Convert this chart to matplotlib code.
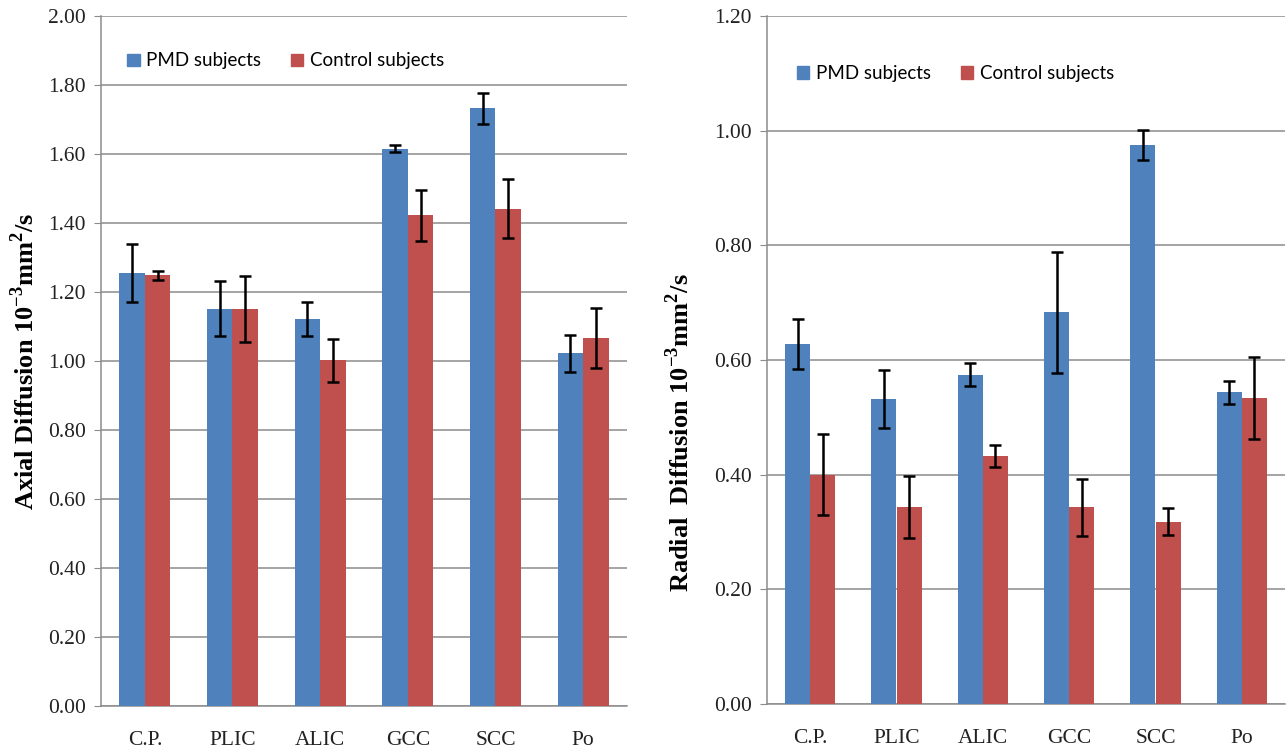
import numpy as np
import matplotlib.pyplot as plt
from matplotlib.patches import Patch

plt.rcParams['font.family'] = ['Liberation Serif', 'DejaVu Serif']
plt.rcParams['mathtext.fontset'] = 'custom'
plt.rcParams['mathtext.rm'] = 'Liberation Serif:bold'
plt.rcParams['mathtext.bf'] = 'Liberation Serif:bold'

regions = ["C.P.", "PLIC", "ALIC", "GCC", "SCC", "Po"]

# axial diffusion (10^-3 mm^2/s)
axial_pmd = [1.255, 1.152, 1.122, 1.615, 1.732, 1.022]
axial_pmd_err = [0.085, 0.080, 0.050, 0.010, 0.045, 0.053]
axial_ctrl = [1.248, 1.150, 1.002, 1.423, 1.442, 1.066]
axial_ctrl_err = [0.014, 0.095, 0.062, 0.074, 0.085, 0.087]

# radial diffusion (10^-3 mm^2/s)
radial_pmd = [0.628, 0.532, 0.574, 0.683, 0.975, 0.544]
radial_pmd_err = [0.044, 0.050, 0.020, 0.105, 0.026, 0.020]
radial_ctrl = [0.400, 0.343, 0.432, 0.343, 0.318, 0.534]
radial_ctrl_err = [0.071, 0.054, 0.019, 0.050, 0.024, 0.071]

blue = "#4F81BD"
red = "#C0504D"
grid_c = "#8c8c8c"
w = 0.29

fig = plt.figure(figsize=(12.88, 7.55), dpi=100)
ax1 = fig.add_axes([101/1288, 1-706/755, 526/1288, 690/755])
ax2 = fig.add_axes([767/1288, 1-704/755, 518/1288, 688/755])


def draw(ax, pmd, pmd_err, ctrl, ctrl_err, ymax, ylabel, label_y, leg_anchor):
    x = np.arange(len(regions))
    ek = dict(ecolor="black", elinewidth=1.8, capsize=4, capthick=1.8)
    ax.bar(x - w/2, pmd, w, color=blue, yerr=pmd_err, error_kw=ek, zorder=3)
    ax.bar(x + w/2, ctrl, w, color=red, yerr=ctrl_err, error_kw=ek, zorder=3)
    ax.set_xlim(-0.5, len(regions) - 0.5)
    ax.set_ylim(0, ymax)
    ticks = np.arange(0, ymax + 0.001, 0.2)
    ax.set_yticks(ticks)
    ax.set_yticklabels([f"{t:.2f}" for t in ticks])
    ax.set_xticks(x)
    ax.set_xticklabels(regions)
    ax.grid(axis="y", color=grid_c, linewidth=1.1, zorder=0)
    for s in ["top", "right"]:
        ax.spines[s].set_visible(False)
    for s in ["left", "bottom"]:
        ax.spines[s].set_color(grid_c)
        ax.spines[s].set_linewidth(1.1)
    ax.tick_params(axis="y", length=5, color=grid_c, labelsize=15.5, pad=6, colors="#222222")
    ax.tick_params(axis="x", length=0, labelsize=15.5, pad=18, colors="#222222")
    ax.set_ylabel(ylabel, fontsize=19, fontweight="bold")
    ax.yaxis.set_label_coords(*label_y)
    handles = [Patch(color=blue, label="PMD subjects"),
               Patch(color=red, label="Control subjects")]
    ax.legend(handles=handles, ncol=2, frameon=False, loc="center left",
              bbox_to_anchor=leg_anchor, prop={"family": "Lato", "size": 13.5},
              handlelength=0.65, handleheight=0.65, handletextpad=0.35,
              columnspacing=1.6, borderaxespad=0)


draw(ax1, axial_pmd, axial_pmd_err, axial_ctrl, axial_ctrl_err, 2.0,
     r"Axial Diffusion 10$^{-3}$mm$^{2}$/s", (-0.118, 0.5), (0.036, 0.935))
draw(ax2, radial_pmd, radial_pmd_err, radial_ctrl, radial_ctrl_err, 1.2,
     r"Radial  Diffusion 10$^{-3}$mm$^{2}$/s", (-0.141, 0.395), (0.044, 0.916))

fig.savefig("out.png", dpi=100)
